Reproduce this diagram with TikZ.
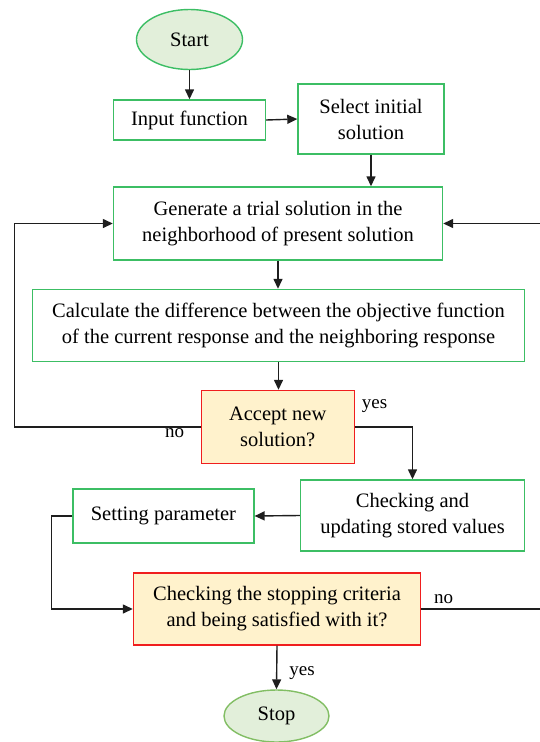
\documentclass[tikz,border=0pt]{standalone}
\usepackage{fontspec}
\setmainfont{Liberation Serif}
\newfontfamily\flowfont{Liberation Serif}
\usetikzlibrary{arrows.meta,shapes.geometric}
\definecolor{boxgreen}{RGB}{60,190,100}
\definecolor{boxred}{RGB}{240,30,30}
\definecolor{qfill}{RGB}{255,242,204}
\definecolor{ovalfill}{RGB}{226,239,218}
\definecolor{stopgreen}{RGB}{130,190,100}
\definecolor{wire}{RGB}{30,30,30}
\begin{document}
\begin{tikzpicture}[x=1pt,y=-1pt,
  every node/.style={font=\flowfont\fontsize{20.5}{26}\selectfont, align=center, inner sep=0pt},
  proc/.style={rectangle, draw=boxgreen, line width=1.4pt, fill=white},
  cond/.style={rectangle, draw=boxred, line width=1.4pt, fill=qfill},
  term/.style={ellipse, draw=boxgreen, fill=ovalfill, line width=1.4pt},
  flow/.style={line width=1.4pt, draw=wire, -{Triangle[length=10pt,width=9pt]}},
  lbl/.style={font=\flowfont\fontsize{19}{20}\selectfont}
]
\useasboundingbox (0,0) rectangle (540,742);

% terminals
\node[term, minimum width=106pt, minimum height=60pt] (start) at (189.5,39.5) {Start};
\node[term, draw=stopgreen, minimum width=105pt, minimum height=52pt] (stop) at (276.5,716) {Stop};

% process boxes
\node[proc, minimum width=152pt, minimum height=40pt] (input) at (189.5,120) {Input function};
\node[proc, minimum width=146pt, minimum height=70pt] (select) at (371,119) {Select initial\\solution};
\node[proc, minimum width=329pt, minimum height=73pt] (gen) at (278,223.5) {Generate a trial solution in the\\neighborhood of present solution};
\node[proc, minimum width=492pt, minimum height=72pt] (calc) at (278.5,325.5) {Calculate the difference between the objective function\\of the current response and the neighboring response};
\node[proc, minimum width=224pt, minimum height=71pt] (check) at (412.5,515.5) {Checking and\\updating stored values};
\node[proc, minimum width=181pt, minimum height=54pt] (setp) at (163.4,516) {Setting parameter};

% decisions
\node[cond, minimum width=153pt, minimum height=73pt] (accept) at (277.7,427) {Accept new\\solution?};
\node[cond, minimum width=287pt, minimum height=72pt] (stopc) at (277,609) {Checking the stopping criteria\\and being satisfied with it?};

% branch labels
\node[lbl] (yes1) at (374.5,406) {yes};
\node[lbl] (no1) at (174.5,433) {no};
\node[lbl] (no2) at (443.5,599) {no};
\node[lbl] (yes2) at (302,673) {yes};

% bend points of the loops
\coordinate (noleft) at (14.5,427);
\coordinate (setleft) at (51.3,516);
\coordinate (noright) at (541.5,609);

% main flow
\draw[flow] (start.south) -- (input.north);
\draw[flow] (input.east) -- (select.west);
\draw[flow] (select.south) -- (select.south |- gen.north);
\draw[flow] (gen.south) -- (gen.south |- calc.north);
\draw[flow] (calc.south) -- (calc.south |- accept.north);
\draw[flow] (accept.east) -| (check.north);
\draw[flow] (check.west) -- (setp.east);
\draw[flow] (setp.west) -- (setleft) |- (stopc.west);
\draw[flow] (stopc.south) -- (stop.north);

% loops back to the trial step
\draw[flow] (accept.west) -- (noleft) |- (gen.west);
\draw[flow] (stopc.east) -- (noright) |- (gen.east);
\end{tikzpicture}
\end{document}
